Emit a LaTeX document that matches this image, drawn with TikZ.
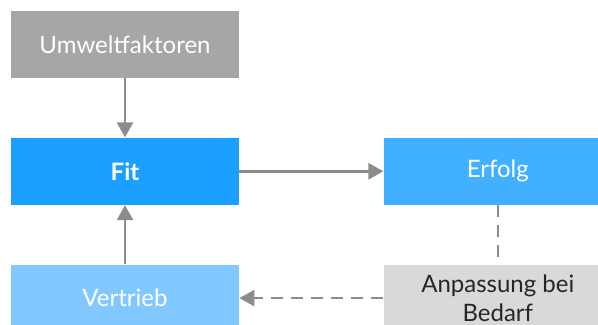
\documentclass[tikz,border=0pt]{standalone}
\usepackage{fontspec}
\setmainfont{Lato}
\usetikzlibrary{positioning,arrows.meta}
\definecolor{umweltgray}{HTML}{A6A6A6}
\definecolor{fitblue}{HTML}{1BA0FF}
\definecolor{erfolgblue}{HTML}{41B0FF}
\definecolor{vertriebblue}{HTML}{80C8FF}
\definecolor{anpassgray}{HTML}{D9D9D9}
\definecolor{arrowgray}{HTML}{8C8C8C}
\definecolor{darktext}{HTML}{262626}

\begin{document}
\begin{tikzpicture}[>={Triangle[length=7.5pt, width=8pt]}, node distance=29.5pt and 72pt,
	box/.style={rectangle, minimum width=114pt, minimum height=33.5pt, inner sep=0pt, text=white, font=\fontsize{12}{16}\selectfont},
	link/.style={->, draw=arrowgray, fill=arrowgray, line width=1.3pt},
	dashlink/.style={draw=arrowgray, line width=1.3pt, dash pattern=on 6pt off 4pt}]
	\clip (0,0) rectangle (299pt,-162.5pt);
	\node[box, fill=umweltgray] (umwelt) at (62.5pt,-22.25pt) {Umweltfaktoren};
	\node[box, fill=fitblue, font=\fontsize{12}{16}\selectfont\bfseries] (fit) [below=of umwelt] {Fit};
	\node[box, fill=vertriebblue] (vertrieb) [below=of fit] {Vertrieb};
	\node[box, fill=erfolgblue] (erfolg) [right=of fit] {Erfolg};
	\node[box, fill=anpassgray, text=darktext, align=center, font=\fontsize{12}{14.5}\selectfont] (anpassung) [below=of erfolg] {Anpassung bei\\Bedarf};
	\path
		(umwelt) edge[link] (fit)
		(vertrieb) edge[link] (fit)
		(fit) edge[link] (erfolg)
		(erfolg) edge[dashlink] (anpassung)
		(anpassung) edge[dashlink, ->] (vertrieb);
\end{tikzpicture}
\end{document}
